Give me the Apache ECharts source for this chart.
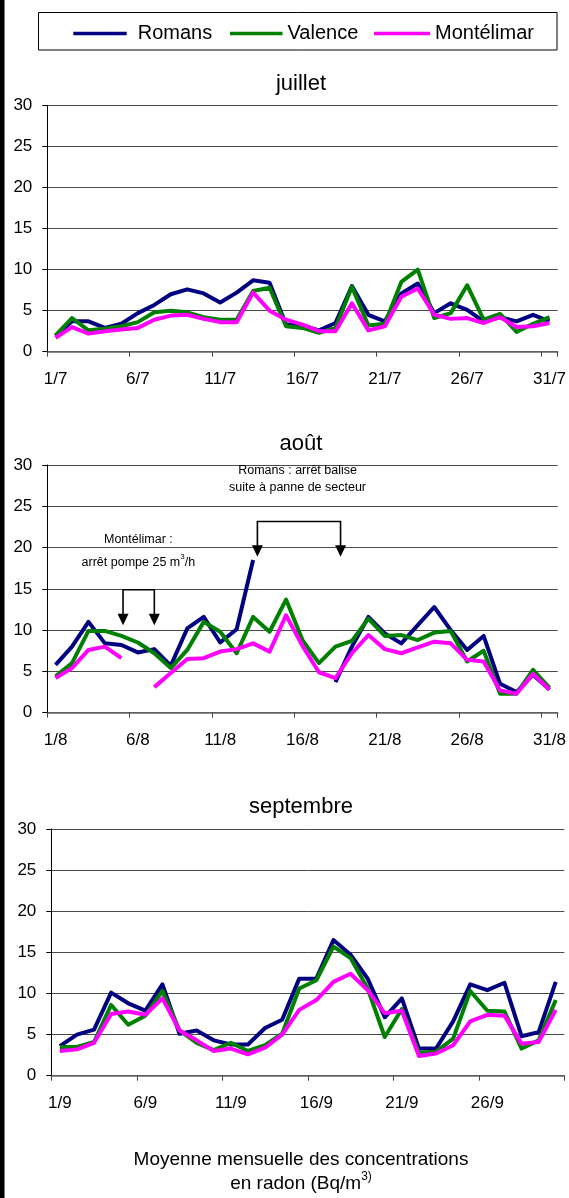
<!DOCTYPE html>
<html><head><meta charset="utf-8">
<script src="https://cdn.jsdelivr.net/npm/echarts@6/dist/echarts.min.js"></script>
<style>html,body{margin:0;padding:0;background:#fff}#c{width:569px;height:1198px}</style>
</head><body><div id="c"></div>
<script>
// ---------- data ----------
const seriesNames = ['Romans', 'Valence', 'Montélimar'];
const monthTitles = ['juillet', 'août', 'septembre'];
const yTicks = [0, 5, 10, 15, 20, 25, 30];

const julyDays = ['1/7','2/7','3/7','4/7','5/7','6/7','7/7','8/7','9/7','10/7','11/7','12/7','13/7','14/7','15/7','16/7','17/7','18/7','19/7','20/7','21/7','22/7','23/7','24/7','25/7','26/7','27/7','28/7','29/7','30/7','31/7'];
const augustDays = ['1/8','2/8','3/8','4/8','5/8','6/8','7/8','8/8','9/8','10/8','11/8','12/8','13/8','14/8','15/8','16/8','17/8','18/8','19/8','20/8','21/8','22/8','23/8','24/8','25/8','26/8','27/8','28/8','29/8','30/8','31/8'];
const septemberDays = ['1/9','2/9','3/9','4/9','5/9','6/9','7/9','8/9','9/9','10/9','11/9','12/9','13/9','14/9','15/9','16/9','17/9','18/9','19/9','20/9','21/9','22/9','23/9','24/9','25/9','26/9','27/9','28/9','29/9','30/9'];

const julyRomans     = [1.9,3.7,3.7,2.9,3.4,4.7,5.7,7.0,7.6,7.1,6.0,7.2,8.7,8.4,3.3,3.2,2.6,3.5,8.0,4.5,3.7,7.1,8.3,4.7,5.9,5.1,3.7,4.2,3.7,4.5,3.7];
const julyValence    = [2.0,4.1,2.6,2.8,3.1,3.6,4.8,5.0,4.8,4.2,3.9,3.9,7.4,7.8,3.1,2.9,2.3,2.9,7.9,3.2,3.4,8.5,10.0,4.1,4.7,8.1,3.9,4.6,2.4,3.4,4.2];
const julyMontelimar = [1.7,3.0,2.2,2.5,2.7,2.9,3.9,4.4,4.5,4.0,3.6,3.6,7.2,5.0,3.9,3.3,2.5,2.5,5.9,2.6,3.1,6.7,7.7,4.5,4.0,4.1,3.5,4.2,3.0,3.1,3.5];

const augustRomans     = [5.8,8.0,11.0,8.4,8.2,7.3,7.7,5.7,10.2,11.6,8.5,10.1,18.5,null,null,null,null,3.7,8.0,11.6,9.6,8.4,10.6,12.8,10.0,7.6,9.3,3.5,2.5,4.6,2.8];
const augustValence    = [4.4,6.0,9.9,9.9,9.3,8.5,7.2,5.4,7.6,11.0,9.8,7.2,11.6,9.8,13.7,8.8,6.0,8.0,8.7,11.4,9.3,9.4,8.8,9.7,9.9,6.2,7.5,2.3,2.3,5.2,3.0];
const augustMontelimar = [4.2,5.4,7.6,8.0,6.6,null,3.1,4.8,6.5,6.6,7.4,7.7,8.4,7.4,11.8,8.1,4.9,4.2,7.2,9.4,7.7,7.2,7.9,8.6,8.4,6.4,6.2,2.7,2.3,4.7,2.8];

const septemberRomans     = [3.6,5.0,5.6,10.1,8.8,7.9,11.1,5.1,5.5,4.3,3.8,3.8,5.8,6.8,11.8,11.8,16.5,14.7,11.8,7.1,9.4,3.3,3.3,6.6,11.1,10.4,11.3,4.8,5.3,11.4];
const septemberValence    = [3.5,3.5,4.1,8.6,6.2,7.3,10.3,5.5,4.0,3.1,4.0,3.0,3.7,5.1,10.6,11.6,15.7,14.3,10.6,4.7,8.1,2.8,2.9,4.5,10.3,7.9,7.8,3.3,4.3,9.2];
const septemberMontelimar = [3.0,3.2,4.0,7.5,7.8,7.4,9.4,5.5,4.3,3.0,3.3,2.6,3.4,5.0,8.0,9.2,11.4,12.4,10.4,7.6,7.9,2.4,2.7,3.7,6.6,7.4,7.3,3.9,4.1,8.0];

// ---------- chart ----------
const FONT = '"Liberation Sans", Arial, sans-serif';
const colors = ['#000080', '#008000', '#ff00ff'];
const months = [
  { cats: julyDays, data: [julyRomans, julyValence, julyMontelimar] },
  { cats: augustDays, data: [augustRomans, augustValence, augustMontelimar] },
  { cats: septemberDays, data: [septemberRomans, septemberValence, septemberMontelimar] }
];
const grids = [
  { left: 47.3, top: 105.5, width: 512.6, height: 246.2 },
  { left: 47.3, top: 465, width: 512.6, height: 247.7 },
  { left: 51.3, top: 828.9, width: 513, height: 246.8 }
];

const chart = echarts.init(document.getElementById('c'), null, { renderer: 'canvas' });

const series = [];
months.forEach((m, g) => {
  m.data.forEach((d, s) => {
    series.push({
      type: 'line', name: seriesNames[s], xAxisIndex: g, yAxisIndex: g,
      data: d, symbol: 'none', showSymbol: false, connectNulls: false,
      lineStyle: { color: colors[s], width: 4, join: 'round' },
      itemStyle: { color: colors[s] }, z: 2 + s
    });
  });
});

const legendPos = [
  { left: 73.3, width: 53.4, pad: 6 },
  { left: 230, width: 52.5, pad: 0 },
  { left: 374, width: 56, pad: 0 }
];

chart.setOption({
  animation: false,
  backgroundColor: '#fff',
  textStyle: { fontFamily: FONT },
  grid: grids,
  legend: seriesNames.map((n, i) => ({
    data: [{ name: n, icon: 'rect' }],
    left: legendPos[i].left, top: 23.5, padding: 0,
    itemWidth: legendPos[i].width, itemHeight: 3.5,
    selectedMode: false,
    itemStyle: { color: colors[i] },
    textStyle: { fontSize: 20, color: '#000', fontFamily: FONT, padding: [0, 0, 0, legendPos[i].pad] }
  })),
  xAxis: months.map((m, g) => ({
    type: 'category', gridIndex: g, data: m.cats, boundaryGap: true,
    axisLine: { show: true, onZero: false, lineStyle: { color: '#666', width: 1.5 } },
    axisTick: { show: true, interval: 4, length: 5, lineStyle: { color: '#444', width: 1 } },
    axisLabel: { interval: 4, margin: 19, fontSize: 17, color: '#000', fontFamily: FONT },
    splitLine: { show: false }
  })),
  yAxis: months.map((m, g) => ({
    type: 'value', gridIndex: g, min: yTicks[0], max: yTicks[yTicks.length - 1], interval: 5,
    axisLine: { show: true, lineStyle: { color: '#000', width: 1 } },
    axisTick: { show: true, length: 5, lineStyle: { color: '#000', width: 1 } },
    axisLabel: { margin: 15, fontSize: 17, color: '#000', fontFamily: FONT },
    splitLine: { show: true, lineStyle: { color: '#4a4a4a', width: 1 } }
  })),
  series: series
});

// ---------- annotations (data-space anchors, converted through the axes) ----------
function px(g, xi, v) {
  const p0 = chart.convertToPixel({ gridIndex: g }, [0, v]);
  const p1 = chart.convertToPixel({ gridIndex: g }, [1, v]);
  return [p0[0] + xi * (p1[0] - p0[0]), p0[1]];
}
function bracket(g, x1, x2, vTop, vTip) {
  const a = px(g, x1, vTop), b = px(g, x2, vTop);
  const ta = px(g, x1, vTip), tb = px(g, x2, vTip);
  const hh = 11.5, hw = 5.5;
  const els = [{
    type: 'polyline', silent: true,
    shape: { points: [[a[0], ta[1] - hh + 1], a, b, [b[0], tb[1] - hh + 1]] },
    style: { stroke: '#000', lineWidth: 1.6, fill: null }
  }];
  [ta, tb].forEach(t => els.push({
    type: 'polygon', silent: true,
    shape: { points: [[t[0] - hw, t[1] - hh], [t[0] + hw, t[1] - hh], [t[0], t[1]]] },
    style: { fill: '#000' }
  }));
  return els;
}
function txt(x, y, text, size, rich) {
  const o = {
    type: 'text', x: x, y: y, silent: true,
    style: { text: text, font: size + 'px ' + FONT, fill: '#000', textAlign: 'center', textVerticalAlign: 'middle', align: 'center', verticalAlign: 'middle' }
  };
  if (rich) o.style.rich = rich;
  return o;
}
const supRich = (base, sup) => ({
  a: { fontSize: base, lineHeight: base + 4, fontFamily: FONT, color: '#000', verticalAlign: 'bottom' },
  s: { fontSize: sup, lineHeight: sup, fontFamily: FONT, color: '#000', verticalAlign: 'top' }
});

const romansTxt1 = px(1, 14.7, 29.3), romansTxt2 = px(1, 14.7, 27.3);
const monteTxt1 = px(1, 5.03, 21.0), monteTxt2 = px(1, 5.03, 18.4);

const graphics = [
  { type: 'rect', silent: true, shape: { x: 0, y: 0, width: 4.5, height: 1198 }, style: { fill: '#000' } },
  { type: 'rect', silent: true, shape: { x: 38.5, y: 12.5, width: 518.5, height: 37.5 }, style: { fill: null, stroke: '#000', lineWidth: 1 } },
  txt(301, 84, monthTitles[0], 22),
  txt(301, 443.5, monthTitles[1], 22),
  txt(301, 806.5, monthTitles[2], 22),
  txt(301, 1160, 'Moyenne mensuelle des concentrations', 19),
  txt(301, 1182, '{a|en radon (Bq/m}{s|3)}', 19, supRich(19, 12)),
  txt(romansTxt1[0], romansTxt1[1], 'Romans : arrêt balise', 12.5),
  txt(romansTxt2[0], romansTxt2[1], 'suite à panne de secteur', 12.5),
  txt(monteTxt1[0], monteTxt1[1], 'Montélimar :', 12.5),
  txt(monteTxt2[0], monteTxt2[1], '{a|arrêt pompe 25 m}{s|3}{a|/h}', 12.5, supRich(12.5, 8))
].concat(bracket(1, 4.1, 6.0, 14.9, 10.6), bracket(1, 12.26, 17.31, 23.15, 18.9));

chart.setOption({ graphic: graphics });
</script>
</body></html>
